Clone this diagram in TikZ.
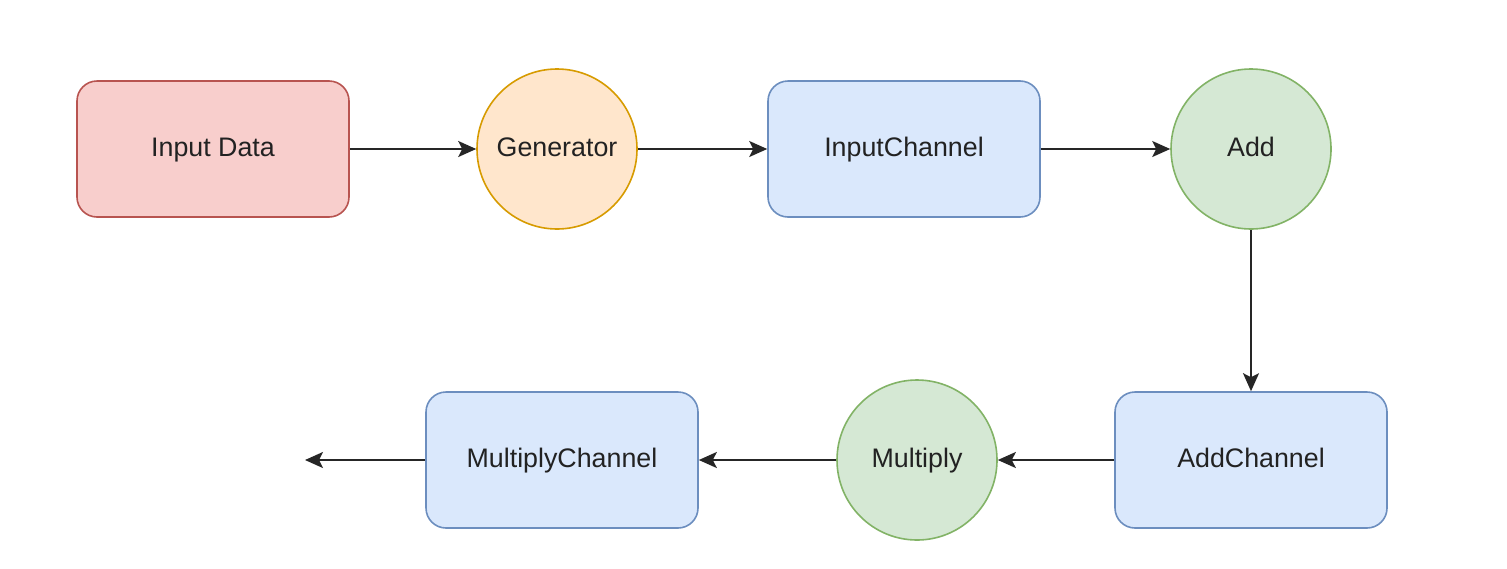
\documentclass[tikz,border=0pt]{standalone}
\usepackage{fontspec}
\setmainfont{Liberation Sans}
\usetikzlibrary{arrows.meta}
\definecolor{redfill}{HTML}{F8CECC}\definecolor{redline}{HTML}{B85450}
\definecolor{orfill}{HTML}{FFE6CC}\definecolor{orline}{HTML}{D79B00}
\definecolor{blfill}{HTML}{DAE8FC}\definecolor{blline}{HTML}{6C8EBF}
\definecolor{grfill}{HTML}{D5E8D4}\definecolor{grline}{HTML}{82B366}
\definecolor{txt}{HTML}{222222}
\tikzset{
  lbl/.style={font=\fontsize{13.4}{16}\selectfont, text=txt, text height=0.92em, text depth=0.2em},
  box/.style={draw, lbl, line width=0.8pt, rounded corners=10pt, minimum width=136pt, minimum height=68pt, inner sep=0pt},
  circ/.style={draw, lbl, circle, line width=0.8pt, minimum size=80pt, inner sep=0pt},
  redbox/.style={box, fill=redfill, draw=redline},
  bluebox/.style={box, fill=blfill, draw=blline},
  orcirc/.style={circ, fill=orfill, draw=orline},
  grcirc/.style={circ, fill=grfill, draw=grline},
  conn/.style={draw=black!85, line width=1pt, -{Stealth[length=9pt,width=8pt,inset=2pt]}}
}
\begin{document}
\begin{tikzpicture}[x=0.5pt,y=-0.5pt]
\useasboundingbox[fill=white] (0,0) rectangle (1507,568);
\node[redbox] (input) at (213,149) {Input Data};
\node[orcirc] (gen) at (557,149) {Generator};
\node[bluebox] (ich) at (904,149) {InputChannel};
\node[grcirc] (add) at (1251,149) {Add};
\node[bluebox] (ach) at (1251,460) {AddChannel};
\node[grcirc] (mul) at (917,460) {Multiply};
\node[bluebox] (mch) at (562,460) {MultiplyChannel};
\coordinate (out) at (305,460);
\draw[conn] (input) -- (gen);
\draw[conn] (gen) -- (ich);
\draw[conn] (ich) -- (add);
\draw[conn] (add) -- (ach);
\draw[conn] (ach) -- (mul);
\draw[conn] (mul) -- (mch);
\draw[conn] (mch) -- (out);
\end{tikzpicture}
\end{document}
